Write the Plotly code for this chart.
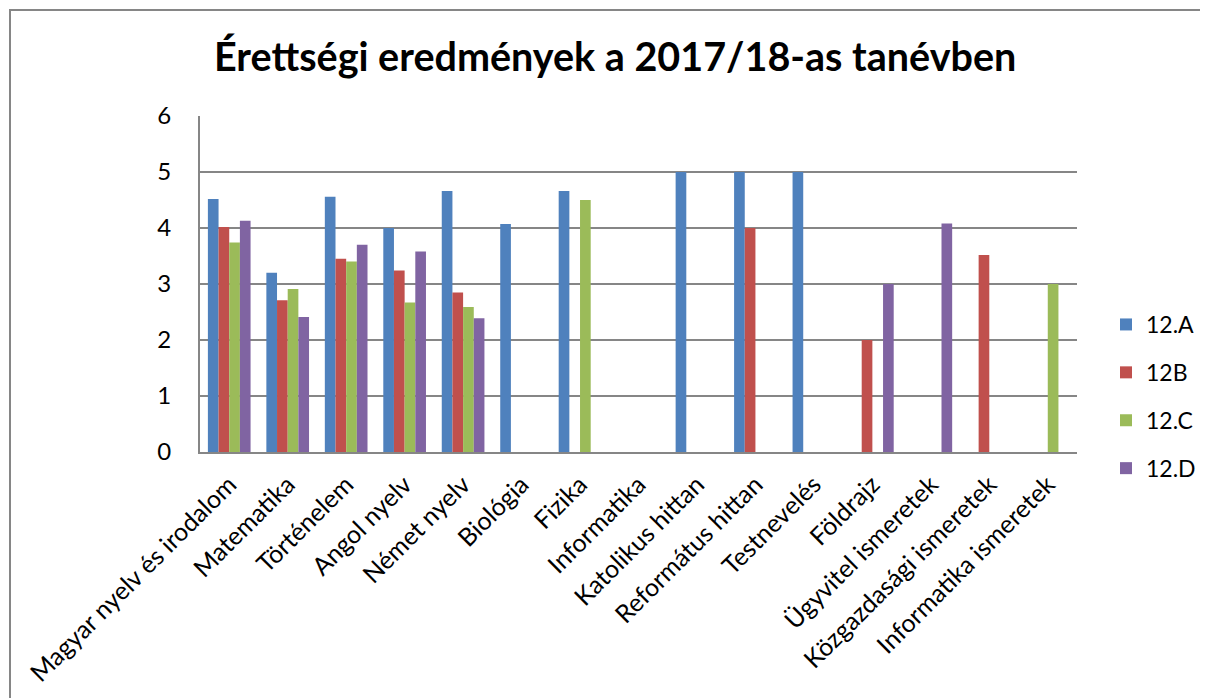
import plotly.graph_objects as go

categories = ["Magyar nyelv és irodalom", "Matematika", "Történelem", "Angol nyelv",
              "Német nyelv", "Biológia", "Fizika", "Informatika", "Katolikus hittan",
              "Református hittan", "Testnevelés", "Földrajz", "Ügyvitel ismeretek",
              "Közgazdasági ismeretek", "Informatika ismeretek"]
s_12A = [4.52, 3.20, 4.56, 4.0, 4.66, 4.07, 4.66, None, 5, 5, 5, None, None, None, None]
s_12B = [4.02, 2.71, 3.45, 3.24, 2.85, None, None, None, None, 4, None, 2, None, 3.52, None]
s_12C = [3.74, 2.91, 3.40, 2.67, 2.59, None, 4.50, None, None, None, None, None, None, None, 3]
s_12D = [4.13, 2.41, 3.70, 3.58, 2.39, None, None, None, None, None, None, 3, 4.08, None, None]
series_names = ["12.A", "12B", "12.C", "12.D"]
colors = ["#4F81BD", "#C0504D", "#9BBB59", "#8064A2"]

fig = go.Figure()
for name, vals, c in zip(series_names, [s_12A, s_12B, s_12C, s_12D], colors):
    fig.add_trace(go.Bar(x=categories, y=vals, name=name, legendgroup=name,
                         marker=dict(color=c, line=dict(width=0))))

W, H = 1200, 690
L, T = 192, 108
R, B = W - 1069, H - 444
pw, ph = W - L - R, H - T - B
FONT = "Lato, Open Sans, sans-serif"
fig.update_layout(
    width=W, height=H, margin=dict(l=L, r=R, t=T, b=B, autoexpand=False),
    paper_bgcolor="white", plot_bgcolor="white",
    barmode="group", bargap=0.27, bargroupgap=0,
    font=dict(family=FONT, color="black", size=21),
    title=dict(text="<b>Érettségi eredmények a 2017/18-as tanévben</b>",
               x=0.506, xanchor="center", y=1 - 49 / H, yanchor="middle",
               font=dict(size=39.5, family=FONT)),
    legend=dict(x=(1098 - L) / pw, y=1 - (295 - T) / ph, xanchor="left", yanchor="top",
                font=dict(size=23), itemwidth=30, tracegroupgap=15,
                traceorder="grouped", bgcolor="rgba(0,0,0,0)"),
    showlegend=True,
)
fig.update_xaxes(tickangle=-45, showline=True, linecolor="#868686", linewidth=2,
                 ticks="", tickfont=dict(size=25), ticklabelstandoff=6, automargin=False)
fig.update_yaxes(range=[0, 6], dtick=1, showgrid=True, gridcolor="#868686", gridwidth=1.5,
                 showline=True, linecolor="#868686", linewidth=2, ticks="",
                 tickfont=dict(size=24), ticklabelstandoff=22, zeroline=False, automargin=False)
fig.add_shape(type="rect", xref="paper", yref="paper",
              x0=(2 - L) / pw, x1=(1198 - L) / pw, y0=-(B + 20) / ph, y1=1 + (T - 2) / ph,
              line=dict(color="#868686", width=2), fillcolor="rgba(0,0,0,0)", layer="below")
fig.write_html("out.html")
